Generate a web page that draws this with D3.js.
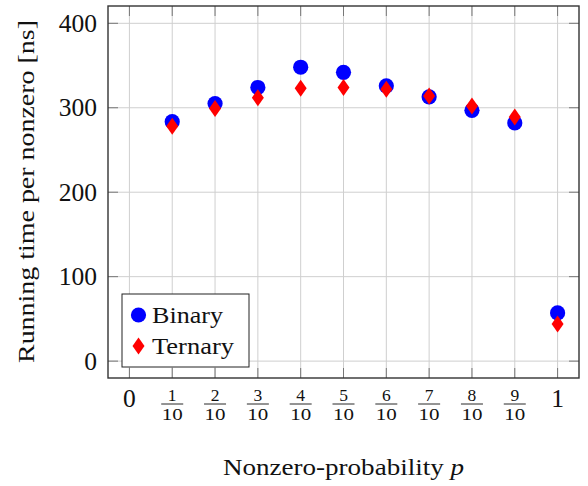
<!DOCTYPE html>
<html>
<head>
<meta charset="utf-8">
<script src="https://cdn.jsdelivr.net/npm/d3@7"></script>
<style>
  body { margin: 0; background: #fff; }
  text { font-family: "Liberation Serif", "DejaVu Serif", serif; fill: #111; }
</style>
</head>
<body>
<div id="chart"></div>
<script>
const width = 588;
const height = 486;
const margin = { top: 6, right: 9, bottom: 108, left: 108 };

// data
const probs = [0.1, 0.2, 0.3, 0.4, 0.5, 0.6, 0.7, 0.8, 0.9, 1];
const binary = [283.5, 305, 324, 348, 342, 326, 313, 297, 282, 57];
const ternary = [278, 299, 312, 323, 324, 322, 314, 302, 289, 44];
const xTicks = [0, 0.1, 0.2, 0.3, 0.4, 0.5, 0.6, 0.7, 0.8, 0.9, 1];
const xTickNum = ['0', '1', '2', '3', '4', '5', '6', '7', '8', '9', '1'];
const yTicks = [0, 100, 200, 300, 400];

const plotW = width - margin.left - margin.right;
const plotH = height - margin.top - margin.bottom;

const x = d3.scaleLinear().domain([-0.05, 1.05]).range([0, plotW]);
const y = d3.scaleLinear().domain([-20, 420.5]).range([plotH, 0]);

const svg = d3.select('#chart').append('svg')
    .attr('width', width)
    .attr('height', height);

const g = svg.append('g')
    .attr('transform', `translate(${margin.left},${margin.top})`);

// grid
g.append('g').selectAll('line')
    .data(xTicks)
    .enter().append('line')
    .attr('x1', d => x(d)).attr('x2', d => x(d))
    .attr('y1', 0).attr('y2', plotH)
    .attr('stroke', '#cfcfcf').attr('stroke-width', 1);
g.append('g').selectAll('line')
    .data(yTicks)
    .enter().append('line')
    .attr('x1', 0).attr('x2', plotW)
    .attr('y1', d => y(d)).attr('y2', d => y(d))
    .attr('stroke', '#cfcfcf').attr('stroke-width', 1);

// inward ticks on all four sides
const tickLen = 10;
const ticks = g.append('g').attr('stroke', '#777').attr('stroke-width', 1);
xTicks.forEach(d => {
    ticks.append('line').attr('x1', x(d)).attr('x2', x(d)).attr('y1', plotH).attr('y2', plotH - tickLen);
    ticks.append('line').attr('x1', x(d)).attr('x2', x(d)).attr('y1', 0).attr('y2', tickLen);
});
yTicks.forEach(d => {
    ticks.append('line').attr('x1', 0).attr('x2', tickLen).attr('y1', y(d)).attr('y2', y(d));
    ticks.append('line').attr('x1', plotW).attr('x2', plotW - tickLen).attr('y1', y(d)).attr('y2', y(d));
});

const diamond = (cx, cy) => `M${cx},${cy - 8.5}L${cx + 6},${cy}L${cx},${cy + 8.5}L${cx - 6},${cy}Z`;

// points
g.append('g').selectAll('circle')
    .data(binary)
    .enter().append('circle')
    .attr('cx', (d, i) => x(probs[i]))
    .attr('cy', d => y(d))
    .attr('r', 7.6)
    .attr('fill', '#0000ff');

g.append('g').selectAll('path')
    .data(ternary)
    .enter().append('path')
    .attr('d', (d, i) => diamond(x(probs[i]), y(d)))
    .attr('fill', '#ff0000');

// frame
g.append('rect')
    .attr('width', plotW).attr('height', plotH)
    .attr('fill', 'none').attr('stroke', '#333').attr('stroke-width', 1.4);

// y tick labels
g.append('g').selectAll('text')
    .data(yTicks)
    .enter().append('text')
    .attr('x', -11)
    .attr('y', d => y(d) + 8.5)
    .attr('text-anchor', 'end')
    .style('font-size', '25.5px')
    .text(d => d);

// x tick labels (fractions)
const xl = g.append('g');
xTicks.forEach((d, i) => {
    const cx = x(d);
    if (i === 0 || i === xTicks.length - 1) {
        xl.append('text').attr('x', cx).attr('y', plotH + 28.5)
            .attr('text-anchor', 'middle').style('font-size', '25.5px').text(xTickNum[i]);
    } else {
        xl.append('text').attr('x', cx).attr('y', plotH + 22.5)
            .attr('text-anchor', 'middle').style('font-size', '17.5px').text(xTickNum[i]);
        xl.append('line').attr('x1', cx - 11).attr('x2', cx + 11)
            .attr('y1', plotH + 26).attr('y2', plotH + 26)
            .attr('stroke', '#111').attr('stroke-width', 0.9);
        xl.append('text').attr('x', cx).attr('y', plotH + 41.5)
            .attr('text-anchor', 'middle').style('font-size', '17.5px')
            .attr('textLength', 21).attr('lengthAdjust', 'spacingAndGlyphs').text('10');
    }
});

// axis titles
svg.append('text')
    .attr('x', margin.left + plotW / 2)
    .attr('y', 475)
    .attr('text-anchor', 'middle')
    .style('font-size', '24px')
    .attr('textLength', 241).attr('lengthAdjust', 'spacingAndGlyphs')
    .html('Nonzero-probability <tspan font-style="italic">p</tspan>');

svg.append('text')
    .attr('transform', `translate(34,${margin.top + plotH / 2 - 0.5}) rotate(-90)`)
    .attr('text-anchor', 'middle')
    .style('font-size', '24px')
    .attr('textLength', 343).attr('lengthAdjust', 'spacingAndGlyphs')
    .text('Running time per nonzero [ns]');

// legend
const lg = g.append('g').attr('transform', `translate(${122 - margin.left},${294 - margin.top})`);
lg.append('rect').attr('width', 127).attr('height', 73)
    .attr('fill', '#fff').attr('stroke', '#222').attr('stroke-width', 1);
lg.append('circle').attr('cx', 16.5).attr('cy', 21).attr('r', 7.6).attr('fill', '#0000ff');
lg.append('path').attr('d', diamond(16.5, 52)).attr('fill', '#ff0000');
lg.append('text').attr('x', 30).attr('y', 29).style('font-size', '24px')
    .attr('textLength', 71).attr('lengthAdjust', 'spacingAndGlyphs').text('Binary');
lg.append('text').attr('x', 30).attr('y', 60).style('font-size', '24px')
    .attr('textLength', 82).attr('lengthAdjust', 'spacingAndGlyphs').text('Ternary');
</script>
</body>
</html>
